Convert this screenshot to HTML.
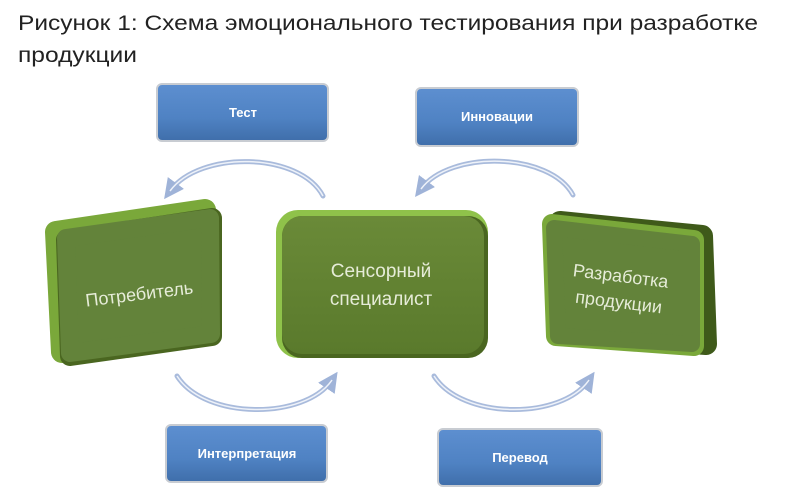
<!DOCTYPE html>
<html><head><meta charset="utf-8"><style>
html,body{margin:0;padding:0;background:#fff}
svg{display:block}
text{font-family:"Liberation Sans","DejaVu Sans",sans-serif}
</style></head><body>
<svg width="808" height="489" viewBox="0 0 808 489" xmlns="http://www.w3.org/2000/svg">
<defs>
<linearGradient id="blue" x1="0" y1="0" x2="0" y2="1">
<stop offset="0" stop-color="#5d8fd0"/><stop offset="0.6" stop-color="#4f82c3"/><stop offset="1" stop-color="#3f6eaa"/></linearGradient>
<linearGradient id="green" x1="0" y1="0" x2="0" y2="1">
<stop offset="0" stop-color="#6a8a38"/><stop offset="1" stop-color="#5a7a2c"/></linearGradient>
<marker id="ah" markerWidth="4" markerHeight="4" refX="2" refY="2" orient="auto" markerUnits="strokeWidth">
<path d="M0,0 L4,2 L0,4 Z" fill="#9fb3d8"/></marker>
</defs>

<text x="18" y="30" font-size="21" fill="#222" textLength="740" lengthAdjust="spacingAndGlyphs">Рисунок 1:  Схема эмоционального тестирования при разработке</text>
<text x="18" y="62" font-size="21" fill="#222" textLength="119" lengthAdjust="spacingAndGlyphs">продукции</text>

<!-- blue boxes -->
<g stroke="#c8ccd2" stroke-width="2">
<rect x="157" y="84" width="171" height="57" rx="5" fill="url(#blue)"/>
<rect x="416" y="88" width="162" height="58" rx="5" fill="url(#blue)"/>
<rect x="166" y="425" width="161" height="57" rx="5" fill="url(#blue)"/>
<rect x="438" y="429" width="164" height="57" rx="5" fill="url(#blue)"/>
</g>
<g font-size="13" fill="#fff" text-anchor="middle" font-weight="bold">
<text x="243" y="117">Тест</text>
<text x="497" y="121">Инновации</text>
<text x="247" y="458">Интерпретация</text>
<text x="520" y="462">Перевод</text>
</g>

<!-- arcs -->
<g fill="none" stroke="#a9bbdc" stroke-width="5" stroke-linecap="round" marker-end="url(#ah)">
<path d="M323,196 C300,152 200,150 170,191"/>
<path d="M573,195 C550,152 450,150 421,189"/>
<path d="M177,376 C205,420 305,420 332,380"/>
<path d="M434,376 C462,420 562,420 589,380"/>
</g>
<g fill="none" stroke="#eef2f9" stroke-width="1.5">
<path d="M323,196 C300,152 200,150 170,191"/>
<path d="M573,195 C550,152 450,150 421,189"/>
<path d="M177,376 C205,420 305,420 332,380"/>
<path d="M434,376 C462,420 562,420 589,380"/>
</g>

<!-- left box -->
<g stroke-linejoin="round">
<polygon points="56,232 205,210 210,330 62,352" fill="#7aa83a" stroke="#7aa83a" stroke-width="22"/>
<polygon points="66,240 212,218 212,336 70,356" fill="#4a6620" stroke="#4a6620" stroke-width="20"/>
<polygon points="66,238 210,218 211,334 70,353" fill="#63833a" stroke="#63833a" stroke-width="18"/>
</g>
<text x="140" y="300" font-size="18" fill="#e6ecd8" text-anchor="middle" transform="rotate(-7 140 300)">Потребитель</text>

<!-- center box -->
<rect x="276" y="210" width="212" height="148" rx="22" fill="#8fc24a"/>
<rect x="282" y="216" width="206" height="142" rx="20" fill="#4a6620"/>
<rect x="282" y="216" width="202" height="138" rx="20" fill="url(#green)"/>
<text x="381" y="277" font-size="19" fill="#e6ecd8" text-anchor="middle">Сенсорный</text>
<text x="381" y="305" font-size="19" fill="#e6ecd8" text-anchor="middle">специалист</text>

<!-- right box -->
<g stroke-linejoin="round">
<polygon points="560,222 702,236 706,344 560,334" fill="#3f5a1a" stroke="#3f5a1a" stroke-width="22"/>
<polygon points="552,224 694,240 694,346 556,336" fill="#7aa83a" stroke="#7aa83a" stroke-width="20"/>
<polygon points="554,228 692,244 692,344 558,336" fill="#63833a" stroke="#63833a" stroke-width="16"/>
</g>
<text x="620" y="282" font-size="18" fill="#e6ecd8" text-anchor="middle" transform="rotate(7 620 282)">Разработка</text>
<text x="618" y="308" font-size="18" fill="#e6ecd8" text-anchor="middle" transform="rotate(7 618 308)">продукции</text>
</svg>
</body></html>
